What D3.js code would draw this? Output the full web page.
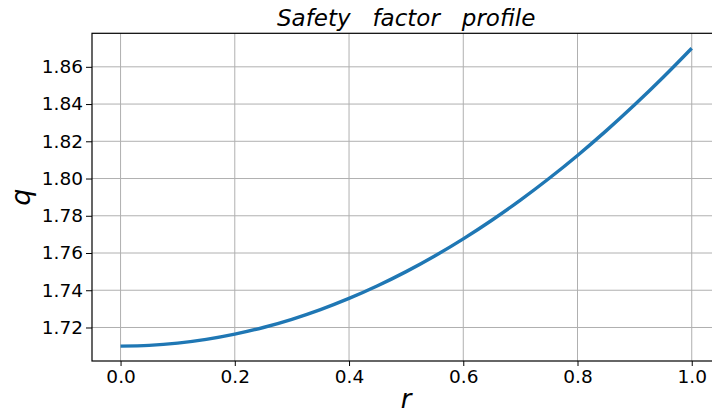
<!DOCTYPE html>
<html>
<head>
<meta charset="utf-8">
<script src="https://cdn.jsdelivr.net/npm/d3@7"></script>
<style>
  html, body { margin: 0; padding: 0; background: #ffffff; overflow: hidden; }
  svg { display: block; font-family: "DejaVu Sans", sans-serif; }
</style>
</head>
<body>
<svg id="chart" width="712" height="415"></svg>
<script>
// Safety factor q as a function of normalised radius r
const rValues = [0.00, 0.05, 0.10, 0.15, 0.20, 0.25, 0.30, 0.35, 0.40, 0.45, 0.50,
                 0.55, 0.60, 0.65, 0.70, 0.75, 0.80, 0.85, 0.90, 0.95, 1.00];
const qValues = [1.7100, 1.7104, 1.7116, 1.7136, 1.7164, 1.7200, 1.7244, 1.7296, 1.7356, 1.7424, 1.7500,
                 1.7584, 1.7676, 1.7776, 1.7884, 1.8000, 1.8124, 1.8256, 1.8396, 1.8544, 1.8700];
const xTicks = [0.0, 0.2, 0.4, 0.6, 0.8, 1.0];
const yTicks = [1.72, 1.74, 1.76, 1.78, 1.80, 1.82, 1.84, 1.86];

const titleText = "Safety   factor   profile";
const xLabel = "r";
const yLabel = "q";

const svg = d3.select("#chart");
const margin = { left: 92, top: 33.3, right: -8.3, bottom: 54 };
const W = 712, H = 415;
const x0 = margin.left, x1 = W - margin.right;
const y0 = H - margin.bottom, y1 = margin.top;

// axis limits padded by 5% of the data span on each side
const xMin = d3.min(rValues), xMax = d3.max(rValues);
const yMin = d3.min(qValues), yMax = d3.max(qValues);
const xPad = (xMax - xMin) * 0.05, yPad = (yMax - yMin) * 0.05;

const x = d3.scaleLinear().domain([xMin - xPad, xMax + xPad]).range([x0, x1]);
const y = d3.scaleLinear().domain([yMin - yPad, yMax + yPad]).range([y0, y1]);

// grid
const grid = svg.append("g").attr("stroke", "#b0b0b0").attr("stroke-width", 1);
grid.selectAll("line.gx").data(xTicks).join("line")
  .attr("x1", d => x(d)).attr("x2", d => x(d))
  .attr("y1", y0).attr("y2", y1);
grid.selectAll("line.gy").data(yTicks).join("line")
  .attr("y1", d => y(d)).attr("y2", d => y(d))
  .attr("x1", x0).attr("x2", x1);

// curve
const points = rValues.map((r, i) => [r, qValues[i]]);
svg.append("path")
  .datum(points)
  .attr("fill", "none")
  .attr("stroke", "#1f77b4")
  .attr("stroke-width", 3.4)
  .attr("stroke-linecap", "butt")
  .attr("d", d3.line().x(d => x(d[0])).y(d => y(d[1])).curve(d3.curveMonotoneX));

// axes
const xAxis = d3.axisBottom(x).tickValues(xTicks).tickFormat(d3.format(".1f"))
  .tickSize(5).tickPadding(4);
const yAxis = d3.axisLeft(y).tickValues(yTicks).tickFormat(d3.format(".2f"))
  .tickSize(6).tickPadding(3);

const gx = svg.append("g").attr("transform", `translate(0,${y0})`).call(xAxis);
const gy = svg.append("g").attr("transform", `translate(${x0},0)`).call(yAxis);
[gx, gy].forEach(g => {
  g.select(".domain").remove();
  g.selectAll(".tick line").attr("stroke", "#000").attr("stroke-width", 1);
  g.selectAll(".tick text")
    .attr("fill", "#000")
    .style("font-family", "'DejaVu Sans', sans-serif")
    .style("font-size", "18.5px");
});

// frame
svg.append("rect")
  .attr("x", x0).attr("y", y1)
  .attr("width", x1 - x0).attr("height", y0 - y1)
  .attr("fill", "none").attr("stroke", "#000").attr("stroke-width", 1.2);

// title and axis labels
svg.append("text")
  .attr("x", (x0 + x1) / 2).attr("y", 26)
  .attr("text-anchor", "middle")
  .style("white-space", "pre")
  .style("font-style", "oblique")
  .style("font-size", "23px")
  .attr("fill", "#000")
  .text(titleText);

svg.append("text")
  .attr("x", (x0 + x1) / 2).attr("y", 408)
  .attr("text-anchor", "middle")
  .style("font-style", "oblique")
  .style("font-size", "26px")
  .attr("fill", "#000")
  .text(xLabel);

svg.append("text")
  .attr("transform", `translate(30,${(y0 + y1) / 2}) rotate(-90)`)
  .attr("text-anchor", "middle")
  .style("font-style", "oblique")
  .style("font-size", "27px")
  .attr("fill", "#000")
  .text(yLabel);
</script>
</body>
</html>
